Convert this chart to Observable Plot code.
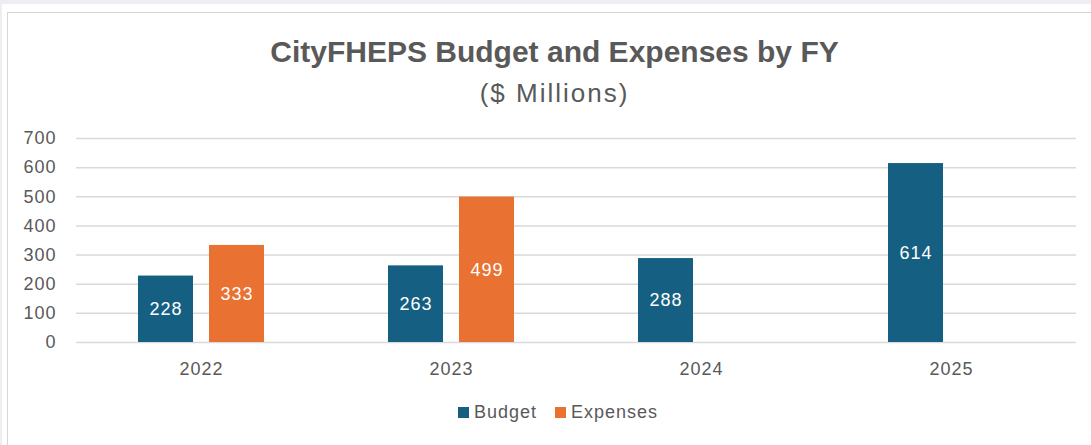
<!DOCTYPE html>
<html>
<head>
<meta charset="utf-8">
<script src="https://cdn.jsdelivr.net/npm/d3@7"></script>
<script src="https://cdn.jsdelivr.net/npm/@observablehq/plot@0.6"></script>
<style>
  html, body { margin: 0; padding: 0; }
  body { width: 1091px; height: 445px; overflow: hidden; background: #ffffff; position: relative; font-family: "Liberation Sans", Arial, sans-serif; color: #595959; }
  #topstrip { position: absolute; left: 0; top: 0; width: 1091px; height: 4px; background: #eceef3; }
  #leftstrip { position: absolute; left: 0; top: 0; width: 2px; height: 445px; background: #eceef3; }
  #panel { position: absolute; left: 7px; top: 12px; width: 1100px; height: 450px; border: 1.5px solid #d6d6d6; background: #fff; }
  #title { position: absolute; left: 9px; top: 36px; width: 1091px; text-align: center; font-size: 30px; line-height: 32px; font-weight: bold; }
  #subtitle { position: absolute; left: 9px; top: 78px; width: 1091px; text-align: center; font-size: 26px; line-height: 30px; letter-spacing: 2px; }
  #chart { position: absolute; left: 0; top: 120px; }
  #legend { position: absolute; left: 458px; top: 400px; height: 24px; display: flex; align-items: center; font-size: 18px; letter-spacing: 1px; }
  .sw { width: 11px; height: 11px; display: inline-block; margin-right: 5px; }
  .item { display: flex; align-items: center; margin-right: 18px; }
</style>
</head>
<body>
<div id="topstrip"></div>
<div id="leftstrip"></div>
<div id="panel"></div>
<div id="title">CityFHEPS Budget and Expenses by FY</div>
<div id="subtitle">($ Millions)</div>
<div id="chart"></div>
<div id="legend"></div>
<script>
const years = ["2022", "2023", "2024", "2025"];
const seriesNames = ["Budget", "Expenses"];
const budget = [228, 263, 288, 614];
const expenses = [333, 499, null, null];
const yTicks = [0, 100, 200, 300, 400, 500, 600, 700];
const colors = ["#156082", "#E97132"];

const rows = [];
years.forEach((yr, i) => {
  if (budget[i] != null) rows.push({year: yr, series: "Budget", value: budget[i]});
  if (expenses[i] != null) rows.push({year: yr, series: "Expenses", value: expenses[i]});
});

const chart = Plot.plot({
  width: 1091,
  height: 260,
  marginLeft: 76,
  marginRight: 15,
  marginTop: 18,
  marginBottom: 38,
  style: {fontFamily: "Liberation Sans, Arial, sans-serif", fontSize: "18px", color: "#595959", background: "transparent", letterSpacing: "1px"},
  fx: {domain: years, padding: 0, label: null},
  x: {domain: seriesNames, paddingInner: 0.225, paddingOuter: 0.873, axis: null},
  y: {domain: [0, 700], label: null},
  color: {domain: seriesNames, range: colors},
  marks: [
    Plot.gridY({ticks: yTicks, stroke: "#d9d9d9", strokeOpacity: 1, strokeWidth: 1.5}),
    Plot.axisY({ticks: yTicks, tickSize: 0, tickPadding: 20, label: null, fontSize: 18}),
    Plot.axisFx({anchor: "bottom", tickSize: 0, tickPadding: 20, label: null, fontSize: 18}),
    Plot.barY(rows, {fx: "year", x: "series", y: "value", fill: "series"}),
    Plot.text(rows, {fx: "year", x: "series", y: d => d.value / 2, text: d => String(d.value), fill: "white", fontSize: 18})
  ]
});
document.getElementById("chart").appendChild(chart);

const legend = document.getElementById("legend");
seriesNames.forEach((s, i) => {
  const item = document.createElement("div");
  item.className = "item";
  const sw = document.createElement("span");
  sw.className = "sw";
  sw.style.background = colors[i];
  const t = document.createElement("span");
  t.textContent = s;
  item.appendChild(sw);
  item.appendChild(t);
  legend.appendChild(item);
});
</script>
</body>
</html>
